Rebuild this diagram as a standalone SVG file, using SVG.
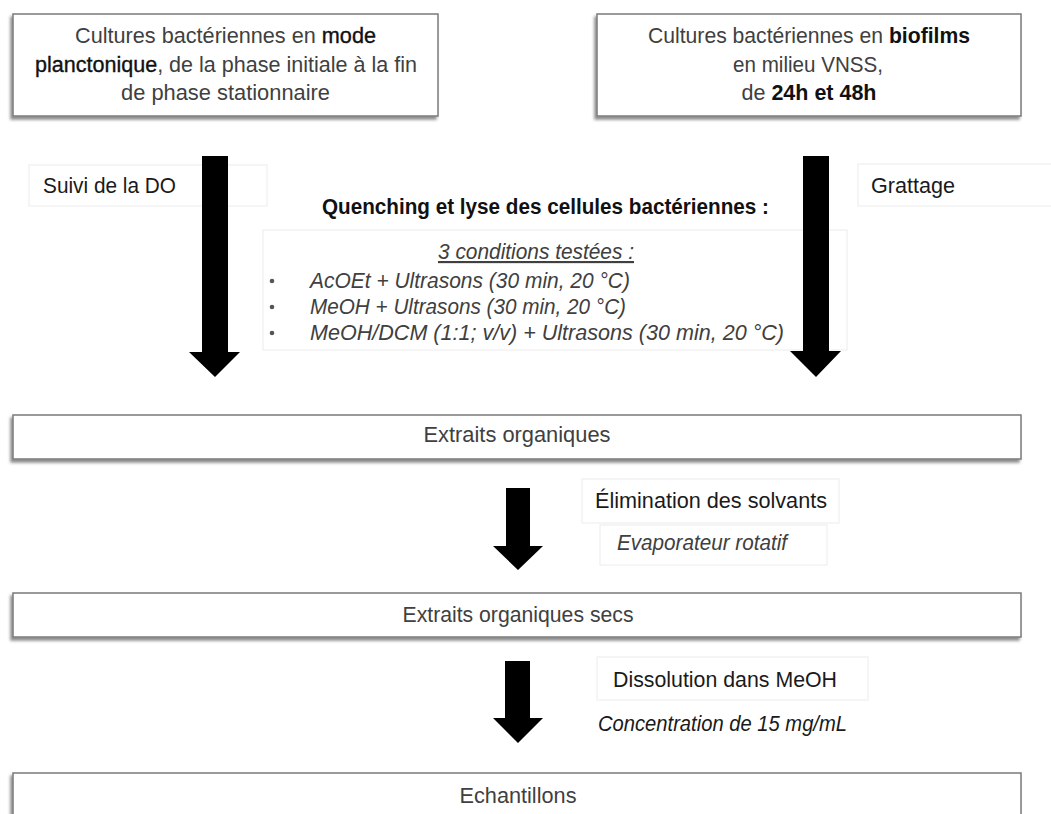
<svg xmlns="http://www.w3.org/2000/svg" width="1051" height="814" viewBox="0 0 1051 814">
<defs>
<filter id="sh" x="-5%" y="-20%" width="110%" height="150%">
<feDropShadow dx="-2" dy="3" stdDeviation="1.5" flood-color="#000" flood-opacity="0.45"/>
</filter>
</defs>
<style>
.box{fill:#fff;stroke:#7a7a7a;stroke-width:1.5;filter:url(#sh)}
.lbl{fill:#fff;stroke:#ececec;stroke-width:1}
.t{font-family:"Liberation Sans",Arial,sans-serif;font-size:21.5px;fill:#404040}
.c{text-anchor:middle}
.k{fill:#1a1a1a}
.b{font-weight:bold;fill:#111}
.dk{fill:#111;stroke:#111;stroke-width:0.35}
.i{font-style:italic}
.arrow{fill:#000}
.dot{fill:#555}
</style>
<rect width="1051" height="814" fill="#fff"/>

<g id="node-planctonique">
<rect class="box" x="13" y="14" width="425" height="102"/>
<text class="t c" x="225.5" y="43" textLength="301" lengthAdjust="spacingAndGlyphs">Cultures bactériennes en <tspan class="dk">mode</tspan></text>
<text class="t c" x="226" y="72" textLength="382" lengthAdjust="spacingAndGlyphs"><tspan class="dk">planctonique</tspan>, de la phase initiale à la fin</text>
<text class="t c" x="225.5" y="100" textLength="209" lengthAdjust="spacingAndGlyphs">de phase stationnaire</text>
</g>

<g id="node-biofilms">
<rect class="box" x="597" y="14" width="424" height="102"/>
<text class="t c" x="809" y="43" textLength="322" lengthAdjust="spacingAndGlyphs">Cultures bactériennes en <tspan class="b">biofilms</tspan></text>
<text class="t c" x="808" y="72" textLength="150" lengthAdjust="spacingAndGlyphs">en milieu VNSS,</text>
<text class="t c" x="809" y="100" textLength="135" lengthAdjust="spacingAndGlyphs">de <tspan class="b">24h et 48h</tspan></text>
</g>

<g id="label-suivi">
<rect class="lbl" x="29" y="165" width="238" height="41"/>
<text class="t k" x="43" y="193" textLength="133" lengthAdjust="spacingAndGlyphs">Suivi de la DO</text>
</g>

<g id="label-grattage">
<rect class="lbl" x="858" y="164" width="200" height="42"/>
<text class="t k" x="871" y="193" textLength="84" lengthAdjust="spacingAndGlyphs">Grattage</text>
</g>

<g id="label-quenching">
<text class="t b c" x="545.5" y="214" textLength="447" lengthAdjust="spacingAndGlyphs">Quenching  et lyse des cellules bactériennes :</text>
<rect class="lbl" x="263" y="230" width="584" height="120"/>
<text class="t i c" x="536" y="259" text-decoration="underline" textLength="196" lengthAdjust="spacingAndGlyphs">3 conditions testées :</text>
<circle class="dot" cx="272" cy="281" r="2.3"/>
<circle class="dot" cx="272" cy="307" r="2.3"/>
<circle class="dot" cx="272" cy="333" r="2.3"/>
<text class="t i" x="310" y="288" textLength="320" lengthAdjust="spacingAndGlyphs">AcOEt + Ultrasons (30 min, 20 °C)</text>
<text class="t i" x="310" y="314" textLength="316" lengthAdjust="spacingAndGlyphs">MeOH + Ultrasons (30 min, 20 °C)</text>
<text class="t i" x="310" y="340" textLength="474" lengthAdjust="spacingAndGlyphs">MeOH/DCM (1:1; v/v) + Ultrasons (30 min, 20 °C)</text>
</g>

<g id="node-extraits">
<rect class="box" x="13" y="415" width="1008" height="44"/>
<text class="t c" x="517" y="442" textLength="187" lengthAdjust="spacingAndGlyphs">Extraits organiques</text>
</g>

<g id="label-elimination">
<rect class="lbl" x="582" y="479" width="257" height="44"/>
<text class="t k" x="595" y="508" textLength="232" lengthAdjust="spacingAndGlyphs">Élimination des solvants</text>
<rect class="lbl" x="600" y="525" width="227" height="40"/>
<text class="t i" x="617" y="550" textLength="170" lengthAdjust="spacingAndGlyphs">Evaporateur rotatif</text>
</g>

<g id="node-extraits-secs">
<rect class="box" x="13" y="593" width="1008" height="44"/>
<text class="t c" x="518" y="622" textLength="231" lengthAdjust="spacingAndGlyphs">Extraits organiques secs</text>
</g>

<g id="label-dissolution">
<rect class="lbl" x="597" y="657" width="271" height="43"/>
<text class="t k" x="613" y="687" textLength="224" lengthAdjust="spacingAndGlyphs">Dissolution dans MeOH</text>
<text class="t i k" x="598" y="731" textLength="249" lengthAdjust="spacingAndGlyphs">Concentration de 15 mg/mL</text>
</g>

<g id="node-echantillons">
<rect class="box" x="13" y="773" width="1008" height="60"/>
<text class="t c" x="518" y="803" textLength="117" lengthAdjust="spacingAndGlyphs">Echantillons</text>
</g>

<g id="connectors">
<polygon class="arrow" points="202,156 228,156 228,352 240,352 215,377 189,352 202,352"/>
<polygon class="arrow" points="803,156 829,156 829,351 841,351 816,377 790,351 803,351"/>
<polygon class="arrow" points="506,488 530,488 530,546 543,546 518,570 493,546 506,546"/>
<polygon class="arrow" points="505,661 530,661 530,718 543,718 518,743 493,718 505,718"/>
</g>
</svg>
